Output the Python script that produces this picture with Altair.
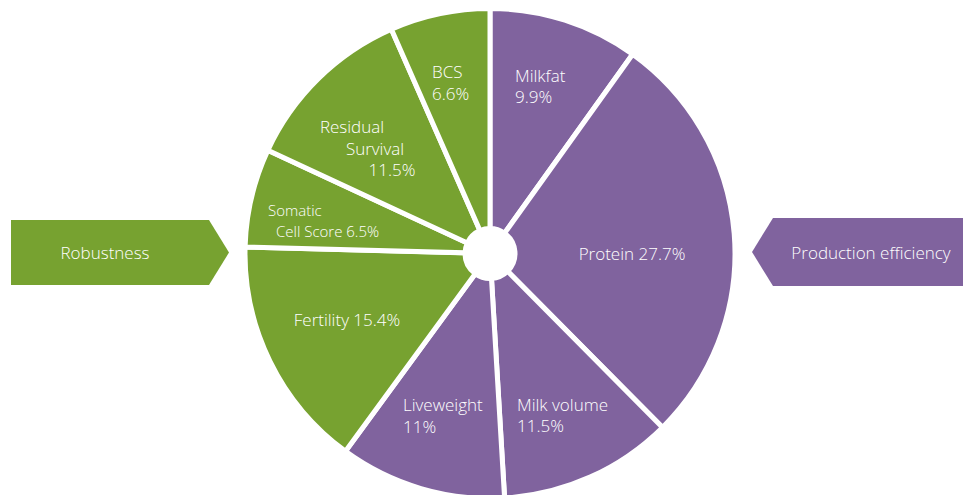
import altair as alt
import pandas as pd

# ---- data ----
slices = ["Milkfat", "Protein", "Milk volume", "Liveweight",
          "Fertility", "Somatic Cell Score", "Residual Survival", "BCS"]
values = [9.9, 27.7, 11.5, 11.0, 15.4, 6.5, 11.5, 6.6]
groups = ["Production efficiency"] * 4 + ["Robustness"] * 4

# label lines (text) and their placement (layout, chart pixel coords)
left_lines = ["Milkfat", "9.9%", "Milk volume", "11.5%", "Liveweight", "11%",
              "BCS", "6.6%", "Somatic", "Cell Score 6.5%"]
left_x = [507, 507, 509, 509, 395, 395, 424, 424, 260, 268]
left_y = [69, 90, 398, 419, 398, 420, 65, 87, 203, 224]
left_fs = [17, 17, 17, 17, 17, 17, 17, 17, 15, 15]

center_lines = ["Protein 27.7%", "Fertility 15.4%", "Residual", "Survival", "11.5%",
                "Robustness", "Production efficiency"]
center_x = [624, 339, 344, 367, 384, 97, 863]
center_y = [247, 313, 120, 142, 163, 246, 246]

PURPLE = "#80639e"
GREEN = "#77a230"

W, H = 955, 487
CX, CY = 482, 245.5

df = pd.DataFrame({"slice": slices, "value": values, "group": groups,
                   "idx": list(range(len(slices)))})

color = alt.Color("group:N",
                  scale=alt.Scale(domain=["Production efficiency", "Robustness"],
                                  range=[PURPLE, GREEN]),
                  legend=None)

arcs = alt.Chart(df).mark_arc(outerRadius=245, innerRadius=25, stroke="white",
                              strokeWidth=5).encode(
    theta=alt.Theta("value:Q", stack=True),
    order=alt.Order("idx:Q"),
    color=color,
    x=alt.value(CX), y=alt.value(CY),
)

# arrow-shaped boxes (custom symbol paths, unit = half box height)
left_arrow = alt.Chart(pd.DataFrame({"g": ["Robustness"]})).mark_point(
    shape="M -3.354 -1 L 2.738 -1 L 3.354 0 L 2.738 1 L -3.354 1 Z",
    size=4225, filled=True, opacity=1, strokeWidth=0, fill=GREEN
).encode(x=alt.value(112), y=alt.value(244.5))

right_arrow = alt.Chart(pd.DataFrame({"g": ["Production efficiency"]})).mark_point(
    shape="M -3.47 0 L -2.853 -1 L 3.3 -1 L 3.3 1 L -2.853 1 Z",
    size=4624, filled=True, opacity=1, strokeWidth=0, fill=PURPLE
).encode(x=alt.value(862), y=alt.value(244))

ldf = pd.DataFrame({"t": left_lines, "x": left_x, "y": left_y, "fs": left_fs})
cdf = pd.DataFrame({"t": center_lines, "x": center_x, "y": center_y})

left_text = alt.Chart(ldf).mark_text(
    font="Open Sans", fontWeight=300, color="white", align="left", baseline="middle"
).encode(
    x=alt.X("x:Q", scale=None, axis=None),
    y=alt.Y("y:Q", scale=None, axis=None),
    text="t:N",
    size=alt.Size("fs:Q", scale=None, legend=None),
)

center_text = alt.Chart(cdf).mark_text(
    font="Open Sans", fontWeight=300, fontSize=17, color="white", align="center",
    baseline="middle"
).encode(
    x=alt.X("x:Q", scale=None, axis=None),
    y=alt.Y("y:Q", scale=None, axis=None),
    text="t:N",
)

chart = alt.layer(arcs, left_arrow, right_arrow, left_text, center_text).properties(
    width=W, height=H, padding=0,
    autosize=alt.AutoSizeParams(type="none"),
).configure_view(stroke=None)

chart.save("out.html", embed_options={"renderer": "svg", "actions": False})
